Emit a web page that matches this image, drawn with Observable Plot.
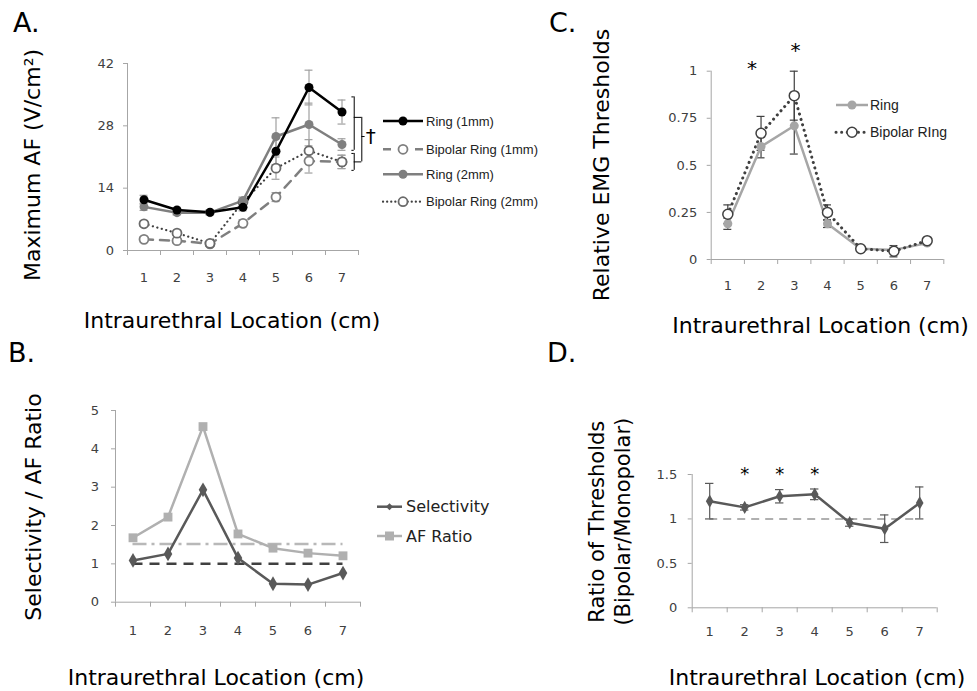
<!DOCTYPE html>
<html>
<head>
<meta charset="utf-8">
<script src="https://cdn.jsdelivr.net/npm/d3@7"></script>
<script src="https://cdn.jsdelivr.net/npm/@observablehq/plot@0.6"></script>
<style>
html,body{margin:0;padding:0;background:#fff;}
#root{position:relative;width:977px;height:691px;overflow:hidden;background:#fff;}
#root svg{position:absolute;}
</style>
</head>
<body>
<div id="root"></div>
<script>
// ---------- shared categories ----------
const locations = [1, 2, 3, 4, 5, 6, 7];
const bandEdges = [0.5, 1.5, 2.5, 3.5, 4.5, 5.5, 6.5, 7.5];
const xLabel = "Intraurethral Location (cm)";

// ---------- Panel A: Maximum AF ----------
const afTicks = [0, 14, 28, 42];
const ring1mm      = [11.4, 9.1, 8.6, 9.7, 22.3, 36.6, 31.1];
const ring1mmErr   = [1.0, 0.5, 0.5, 0.8, 3.0, 3.9, 2.7];
const bipolar1mm   = [2.5, 2.2, 1.5, 6.1, 12.0, 20.1, 19.9];
const bipolar1mmErr= [0.6, 0.5, 0.5, 0.8, 1.0, 2.7, 1.5];
const ring2mm      = [9.8, 8.5, 8.5, 11.2, 25.6, 28.3, 23.8];
const ring2mmErr   = [0.8, 0.5, 0.5, 0.8, 4.2, 4.8, 1.3];
const bipolar2mm   = [6.0, 3.9, 1.6, 10.9, 18.5, 22.4, 19.9];
const bipolar2mmErr= [0.6, 0.5, 0.5, 0.8, 2.5, 2.5, 1.5];
const seriesA = ["Ring (1mm)", "Bipolar Ring (1mm)", "Ring (2mm)", "Bipolar Ring (2mm)"];
// significance brackets (location units, AF units)
const bracketX   = [7.37, 7.60, 7.37];
const bracketTop = [34.5, 29.9, 21.8];
const bracketBot = [22.5, 19.9, 18.0];
const daggerMark = "†";

// ---------- Panel B: Selectivity / AF ratio ----------
const selTicks = [0, 1, 2, 3, 4, 5];
const selectivity = [1.09, 1.26, 2.93, 1.15, 0.48, 0.46, 0.76];
const afRatio     = [1.68, 2.22, 4.58, 1.78, 1.41, 1.28, 1.21];
const selectivityRef = 1.0;
const afRatioRef = 1.52;
const seriesB = ["Selectivity", "AF Ratio"];

// ---------- Panel C: Relative EMG thresholds ----------
const emgTicks = [0, 0.25, 0.5, 0.75, 1];
const ringEMG       = [0.19, 0.60, 0.71, 0.19, 0.057, 0.051, 0.087];
const ringEMGErr    = [0.03, 0.06, 0.15, 0.02, 0.01, 0.01, 0.01];
const bipolarEMG    = [0.24, 0.67, 0.87, 0.25, 0.057, 0.044, 0.10];
const bipolarEMGErr = [0.05, 0.09, 0.13, 0.04, 0.01, 0.03, 0.01];
const seriesC = ["Ring", "Bipolar RIng"];
const sigCLoc = [1.73, 3.04];
const sigCHeight = [1.015, 1.108];

// ---------- Panel D: Ratio of thresholds ----------
const ratioTicks = [0, 0.5, 1, 1.5];
const ratioVals = [1.20, 1.13, 1.255, 1.277, 0.958, 0.89, 1.18];
const ratioErr  = [0.20, 0.03, 0.075, 0.06, 0.04, 0.155, 0.18];
const ratioRef = 1.0;
const sigDLoc = [2, 3, 4];
const sigDHeight = [1.50, 1.50, 1.50];

// ---------- helpers ----------
const root = document.getElementById("root");
const FONT = "DejaVu Sans, sans-serif";
const AXIS = "#a6a6a6";
const TICKTXT = "#404040";

function rows(vals, errs) {
  return locations.map((x, i) => ({x, y: vals[i], lo: errs ? vals[i] - errs[i] : null, hi: errs ? vals[i] + errs[i] : null}));
}
function errorBars(data, stroke, cap, sw = 1.2) {
  return [
    Plot.ruleX(data, {x: "x", y1: "lo", y2: "hi", stroke, strokeWidth: sw}),
    Plot.ruleY(data, {y: "lo", x1: d => d.x - cap, x2: d => d.x + cap, stroke, strokeWidth: sw}),
    Plot.ruleY(data, {y: "hi", x1: d => d.x - cap, x2: d => d.x + cap, stroke, strokeWidth: sw})
  ];
}
function axes(yTicks, yFmt, xPad, yPad) {
  return [
    Plot.ruleY([0], {stroke: AXIS, strokeWidth: 1}),
    Plot.ruleX([0.5], {stroke: AXIS, strokeWidth: 1}),
    Plot.axisX({ticks: bandEdges, tickSize: 5, tickFormat: () => "", stroke: AXIS, label: null}),
    Plot.axisX({ticks: locations, tickSize: 0, tickPadding: xPad, tickFormat: d3.format("d"), fill: TICKTXT, label: null}),
    Plot.axisY({ticks: yTicks, tickSize: 4, tickPadding: yPad, tickFormat: yFmt, stroke: AXIS, fill: TICKTXT, label: null})
  ];
}
function place(node, left, top) {
  node.style.left = left + "px";
  node.style.top = top + "px";
  root.appendChild(node);
}
const style = {fontFamily: FONT, fontSize: "13px", background: "transparent", overflow: "visible"};

// ---------- Panel A plot ----------
const A = Plot.plot({
  width: 480, height: 300,
  marginLeft: 127, marginRight: 122, marginTop: 63, marginBottom: 50,
  style,
  x: {domain: [0.5, 7.5], label: null},
  y: {domain: [0, 42], label: null},
  marks: [
    ...axes(afTicks, d3.format("d"), 22, 9.5),
    ...errorBars(rows(bipolar1mm, bipolar1mmErr), "#a0a0a0", 0.12),
    ...errorBars(rows(bipolar2mm, bipolar2mmErr), "#a0a0a0", 0.12),
    ...errorBars(rows(ring2mm, ring2mmErr), "#a0a0a0", 0.12),
    ...errorBars(rows(ring1mm, ring1mmErr), "#a0a0a0", 0.12),
    Plot.line(rows(bipolar1mm), {x: "x", y: "y", stroke: "#7f7f7f", strokeWidth: 2.5, strokeDasharray: "9,7"}),
    Plot.line(rows(bipolar2mm), {x: "x", y: "y", stroke: "#404040", strokeWidth: 2.2, strokeDasharray: "0.1,4.5", strokeLinecap: "round"}),
    Plot.line(rows(ring2mm), {x: "x", y: "y", stroke: "#7f7f7f", strokeWidth: 2.5}),
    Plot.line(rows(ring1mm), {x: "x", y: "y", stroke: "#000", strokeWidth: 2.5}),
    Plot.dot(rows(bipolar1mm), {x: "x", y: "y", r: 4.5, fill: "#fff", stroke: "#7f7f7f", strokeWidth: 1.8}),
    Plot.dot(rows(bipolar2mm), {x: "x", y: "y", r: 4.5, fill: "#fff", stroke: "#6a6a6a", strokeWidth: 1.8}),
    Plot.dot(rows(ring2mm), {x: "x", y: "y", r: 4.5, fill: "#7f7f7f"}),
    Plot.dot(rows(ring1mm), {x: "x", y: "y", r: 4.5, fill: "#000"}),
    // brackets
    Plot.ruleX(bracketX, {x: d => d, y1: (d, i) => bracketTop[i], y2: (d, i) => bracketBot[i], stroke: "#000", strokeWidth: 1}),
    Plot.ruleY(bracketX, {y: (d, i) => bracketTop[i], x1: (d, i) => d - (i === 1 ? 0.23 : 0.07), x2: d => d, stroke: "#000", strokeWidth: 1}),
    Plot.ruleY(bracketX, {y: (d, i) => bracketBot[i], x1: (d, i) => d - (i === 1 ? 0.23 : 0.07), x2: d => d, stroke: "#000", strokeWidth: 1}),
    Plot.ruleY([bracketX[1]], {y: (bracketTop[1] + bracketBot[1]) / 2 + 0.7, x1: d => d, x2: d => d + 0.1, stroke: "#000", strokeWidth: 1}),
    Plot.text([daggerMark], {x: bracketX[1] + 0.27, y: (bracketTop[1] + bracketBot[1]) / 2 + 0.7, text: d => d, fontSize: 20, fill: "#000", fontFamily: FONT})
  ]
});
place(A, 0, 0);

// ---------- Panel C plot ----------
const C = Plot.plot({
  width: 417, height: 340,
  marginLeft: 150.7, marginRight: 33.7, marginTop: 70.7, marginBottom: 81,
  style,
  x: {domain: [0.5, 7.5], label: null},
  y: {domain: [0, 1], label: null},
  marks: [
    ...axes(emgTicks, d => String(d), 21.5, 10),
    ...errorBars(rows(ringEMG, ringEMGErr), "#404040", 0.12),
    ...errorBars(rows(bipolarEMG, bipolarEMGErr), "#404040", 0.12),
    Plot.line(rows(ringEMG), {x: "x", y: "y", stroke: "#a6a6a6", strokeWidth: 2.5}),
    Plot.line(rows(bipolarEMG), {x: "x", y: "y", stroke: "#404040", strokeWidth: 3, strokeDasharray: "0.1,5.5", strokeLinecap: "round"}),
    Plot.dot(rows(ringEMG), {x: "x", y: "y", r: 4.5, fill: "#a6a6a6"}),
    Plot.dot(rows(bipolarEMG), {x: "x", y: "y", r: 5, fill: "#fff", stroke: "#404040", strokeWidth: 1.5}),
    Plot.text(sigCLoc, {x: d => d, y: (d, i) => sigCHeight[i], text: () => "*", fontSize: 20, fill: "#000", fontFamily: FONT})
  ]
});
place(C, 560, 0);

// ---------- Panel B plot ----------
const B = Plot.plot({
  width: 560, height: 351,
  marginLeft: 115, marginRight: 200, marginTop: 70, marginBottom: 89.3,
  style,
  x: {domain: [0.5, 7.5], label: null},
  y: {domain: [0, 5], label: null},
  marks: [
    ...axes(selTicks, d3.format("d"), 24, 12.5),
    Plot.ruleY([afRatioRef], {x1: 1, x2: 7, stroke: "#b8b8b8", strokeWidth: 2.5, strokeDasharray: "14,5,3,5"}),
    Plot.ruleY([selectivityRef], {x1: 1, x2: 7, stroke: "#404040", strokeWidth: 2.5, strokeDasharray: "10,7"}),
    Plot.line(rows(afRatio), {x: "x", y: "y", stroke: "#b0b0b0", strokeWidth: 2.5}),
    Plot.dot(rows(afRatio), {x: "x", y: "y", symbol: "square", r: 5, fill: "#b0b0b0"}),
    Plot.line(rows(selectivity), {x: "x", y: "y", stroke: "#595959", strokeWidth: 2.5}),
    Plot.dot(rows(selectivity), {x: "x", y: "y", symbol: "diamond", r: 4.5, fill: "#595959"})
  ]
});
place(B, 0, 340);

// ---------- Panel D plot ----------
const D = Plot.plot({
  width: 417, height: 351,
  marginLeft: 131.7, marginRight: 40.3, marginTop: 134, marginBottom: 83.7,
  style,
  x: {domain: [0.5, 7.5], label: null},
  y: {domain: [0, 1.5], label: null},
  marks: [
    ...axes(ratioTicks, d => String(d), 18.5, 11),
    Plot.ruleY([ratioRef], {x1: 1, x2: 7, stroke: "#b0b0b0", strokeWidth: 2, strokeDasharray: "8,6"}),
    ...errorBars(rows(ratioVals, ratioErr), "#595959", 0.12),
    Plot.line(rows(ratioVals), {x: "x", y: "y", stroke: "#595959", strokeWidth: 2.5}),
    Plot.dot(rows(ratioVals), {x: "x", y: "y", symbol: "diamond", r: 4, fill: "#595959"}),
    Plot.text(sigDLoc, {x: d => d, y: (d, i) => sigDHeight[i], text: () => "*", fontSize: 18, fill: "#000", fontFamily: FONT})
  ]
});
place(D, 560, 340);

// ---------- overlay: titles, axis titles, legends ----------
const ov = d3.select(root).append("svg")
  .attr("width", 977).attr("height", 691)
  .style("left", "0px").style("top", "0px")
  .style("font-family", FONT);

function label(x, y, text, size, rotate, anchor = "middle") {
  const t = ov.append("text")
    .attr("text-anchor", anchor)
    .attr("dominant-baseline", "central")
    .attr("font-size", size)
    .attr("fill", "#000")
    .attr("transform", `translate(${x},${y})` + (rotate ? " rotate(-90)" : ""));
  t.text(text);
  return t;
}
// panel letters
[["A.", 13, 32], ["C.", 549, 32], ["B.", 8, 362], ["D.", 547, 362]].forEach(([s, x, y]) => {
  ov.append("text").attr("x", x).attr("y", y).attr("font-size", 27).attr("fill", "#000").text(s);
});
// axis titles
label(32.5, 165, "Maximum AF (V/cm²)", 22, true);
label(232, 320, xLabel, 22, false);
label(601, 165, "Relative EMG Thresholds", 22, true);
label(820.5, 325, xLabel, 22, false);
label(33, 507, "Selectivity / AF Ratio", 22, true);
label(216, 677, xLabel, 22, false);
label(597, 521.7, "Ratio of Thresholds", 21, true);
label(623.3, 521.7, "(Bipolar/Monopolar)", 21, true);
label(817, 677, xLabel, 22, false);

// legend helper
function legendRow(x0, x1, y, mx, lineStyle, marker, text, textX, font, size, color) {
  ov.append("line").attr("x1", x0).attr("x2", x1).attr("y1", y).attr("y2", y)
    .attr("stroke", lineStyle.stroke).attr("stroke-width", lineStyle.width)
    .attr("stroke-dasharray", lineStyle.dash || null)
    .attr("stroke-linecap", lineStyle.cap || null);
  if (marker.type === "circle") {
    ov.append("circle").attr("cx", mx).attr("cy", y).attr("r", marker.r)
      .attr("fill", marker.fill).attr("stroke", marker.stroke || "none").attr("stroke-width", marker.sw || 0);
  } else if (marker.type === "square") {
    ov.append("rect").attr("x", mx - marker.r).attr("y", y - marker.r).attr("width", 2 * marker.r).attr("height", 2 * marker.r).attr("fill", marker.fill);
  } else if (marker.type === "diamond") {
    ov.append("path").attr("d", d3.symbol(d3.symbolDiamond2, marker.r * marker.r * 2)()).attr("transform", `translate(${mx},${y})`).attr("fill", marker.fill);
  }
  ov.append("text").attr("x", textX).attr("y", y).attr("dominant-baseline", "central")
    .attr("font-family", font).attr("font-size", size).attr("fill", color).text(text);
}
const LS = "Liberation Sans, Arial, sans-serif";
// legend A
const legAY = [121, 149.3, 174.3, 201.7];
legendRow(383, 423, legAY[0], 403, {stroke: "#000", width: 2.5}, {type: "circle", r: 4.5, fill: "#000"}, seriesA[0], 426, LS, 13, "#222");
legendRow(383, 423, legAY[1], 403, {stroke: "#7f7f7f", width: 2.5, dash: "8,24,8"}, {type: "circle", r: 4.5, fill: "#fff", stroke: "#7f7f7f", sw: 1.8}, seriesA[1], 426, LS, 13, "#222");
legendRow(383, 423, legAY[2], 403, {stroke: "#7f7f7f", width: 2.5}, {type: "circle", r: 4.5, fill: "#7f7f7f"}, seriesA[2], 426, LS, 13, "#222");
legendRow(383, 423, legAY[3], 403, {stroke: "#404040", width: 2.2, dash: "0.1,4", cap: "round"}, {type: "circle", r: 4.5, fill: "#fff", stroke: "#6a6a6a", sw: 1.8}, seriesA[3], 426, LS, 13, "#222");
// legend C
legendRow(836, 868, 105, 852, {stroke: "#a6a6a6", width: 2.5}, {type: "circle", r: 4.5, fill: "#a6a6a6"}, seriesC[0], 870, LS, 14, "#222");
legendRow(836, 868, 132.3, 852, {stroke: "#404040", width: 3, dash: "0.1,5.5", cap: "round"}, {type: "circle", r: 5, fill: "#fff", stroke: "#404040", sw: 1.5}, seriesC[1], 870, LS, 14, "#222");
// legend B
legendRow(377, 402, 506.7, 389.5, {stroke: "#595959", width: 2.5}, {type: "diamond", r: 4, fill: "#595959"}, seriesB[0], 406, FONT, 16, "#222");
legendRow(377, 402, 536, 389.5, {stroke: "#b0b0b0", width: 2.5}, {type: "square", r: 4.5, fill: "#b0b0b0"}, seriesB[1], 406, FONT, 16, "#222");
</script>
</body>
</html>
